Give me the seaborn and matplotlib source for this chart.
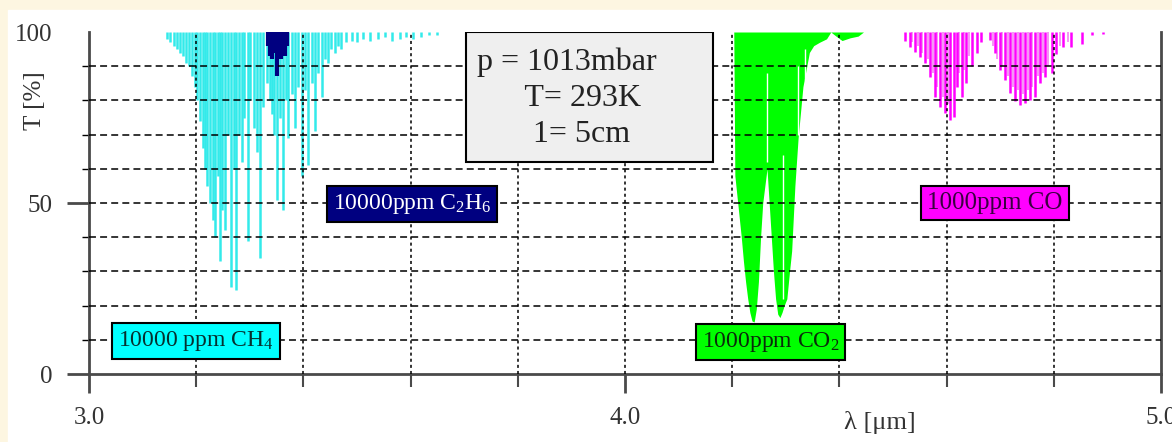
import matplotlib.pyplot as plt
import matplotlib.patches as patches
import seaborn as sns

# line positions (um) and transmission minima (%)
ch4_wl = [3.145, 3.152, 3.158, 3.164, 3.170, 3.176, 3.181, 3.187, 3.192, 3.197,
          3.202, 3.207, 3.212, 3.216, 3.221, 3.226, 3.231, 3.235, 3.240, 3.244,
          3.249, 3.254, 3.259, 3.265, 3.270, 3.274, 3.279, 3.285, 3.290, 3.296,
          3.301, 3.307, 3.313, 3.319, 3.325, 3.332, 3.337, 3.341, 3.346, 3.350,
          3.356, 3.362, 3.367, 3.372, 3.378, 3.384, 3.390, 3.397, 3.403, 3.409,
          3.416, 3.422, 3.428, 3.434, 3.440, 3.446, 3.452, 3.459, 3.465, 3.471,
          3.480, 3.490, 3.500, 3.512, 3.525, 3.540, 3.552, 3.565, 3.580, 3.592,
          3.605, 3.620, 3.635, 3.650]
ch4_T = [98, 97, 96, 95, 94, 93, 91, 90, 87, 84,
         80, 74, 66, 60, 55, 50, 45, 40, 58, 33,
         48, 42, 70, 25.5, 60, 24.5, 70, 62, 75, 39,
         80, 72, 65, 34, 78, 85, 80, 76, 70, 51,
         75, 48, 80, 69, 82, 72, 84, 58, 83, 61,
         85, 71, 88, 81, 92, 91, 95, 94, 96, 95,
         97, 97.5, 97, 98, 97.5, 98, 98.5, 97.5, 98, 98.5,
         98, 98.5, 99, 99]

c2h6_wl = [3.334, 3.338, 3.342, 3.346, 3.350, 3.354, 3.358, 3.362, 3.366, 3.370]
c2h6_T = [96, 93, 92, 94, 87, 93, 92, 94, 93, 96]

# CO2 band is saturated: envelope of the overlapping lines
co2_wl = [4.203, 4.205, 4.209, 4.213, 4.217, 4.221, 4.225, 4.229, 4.233, 4.237,
          4.241, 4.245, 4.249, 4.253, 4.257, 4.261, 4.265, 4.269, 4.273, 4.277,
          4.281, 4.285, 4.289, 4.293, 4.297, 4.302, 4.307, 4.311, 4.317, 4.323,
          4.332, 4.344, 4.352, 4.363, 4.376, 4.384, 4.392, 4.405, 4.420, 4.435,
          4.445]
co2_T = [100, 58, 52, 46, 40, 33, 27, 22, 18, 15.5,
         15.2, 19, 27, 40, 50, 55, 60, 50, 40, 30,
         22, 17.5, 16.5, 18, 20, 22, 30, 36, 55, 69,
         84, 94, 96, 97, 98, 100, 99, 97.5, 98.3, 98.8,
         100]
co2_gap_wl = [4.265, 4.295, 4.322, 4.336]
co2_gap_lo = [62, 22, 70, 86]
co2_gap_hi = [88, 64, 90, 95]

co_wl = [4.523, 4.532, 4.541, 4.550, 4.560, 4.569, 4.578, 4.588, 4.597, 4.606,
         4.613, 4.619, 4.628, 4.637, 4.647, 4.656, 4.665, 4.681, 4.690, 4.700,
         4.709, 4.718, 4.728, 4.737, 4.746, 4.756, 4.765, 4.774, 4.784, 4.796,
         4.805, 4.818, 4.833, 4.852, 4.871, 4.892]
co_T = [97.5, 95.7, 94.2, 92.8, 90.8, 86.9, 81.1, 78.2, 76.2, 74.3,
        75.2, 84.0, 81, 85.0, 90, 93.8, 97, 97.7, 93.8, 88.9,
        86.0, 82.1, 79.7, 78.7, 79.2, 80.1, 81.1, 85.0, 86.9, 88,
        93.5, 95.7, 95.7, 96.5, 99.0, 99.3]
# weaker (isotope / hot band) CO lines between the main ones
co_weak_wl = [4.536, 4.546, 4.555, 4.565, 4.574, 4.583, 4.593, 4.602, 4.624,
              4.633, 4.642, 4.686, 4.695, 4.704, 4.714, 4.723, 4.733, 4.742,
              4.751, 4.760, 4.770, 4.779, 4.790, 4.812, 4.826]
co_weak_T = [97, 96, 94, 92, 88, 84, 81, 79, 88, 89, 93, 96, 92, 90, 87,
             84, 83, 82, 83, 84, 87, 88, 90, 96, 97]

grid_x = [3.2, 3.4, 3.6, 3.8, 4.0, 4.2, 4.4, 4.6, 4.8]
grid_y = [10, 20, 30, 40, 50, 60, 70, 80, 90]

sns.set_style('ticks')
plt.rcParams['font.family'] = ['Liberation Serif', 'DejaVu Serif']
plt.rcParams['mathtext.fontset'] = 'custom'
plt.rcParams['mathtext.rm'] = 'Liberation Serif'
plt.rcParams['mathtext.it'] = 'Liberation Serif:italic'
plt.rcParams['lines.scale_dashes'] = False

fig = plt.figure(figsize=(11.72, 4.42), dpi=100, facecolor='#fdf6e1')
fig.patches.append(patches.Rectangle((0.007, 0), 0.993, 1 - 10 / 442,
                                     transform=fig.transFigure, color='white', zorder=-10))
ax = fig.add_axes([0.0759, 0.1538, 0.9147, 0.7738])
ax.set_facecolor('white')

# spectra
ax.vlines(ch4_wl, ch4_T, 100, color='#33eaea', lw=1.8, zorder=2)
ax.vlines(c2h6_wl, c2h6_T, 100, color='#000080', lw=3, zorder=2)
ax.fill_between(co2_wl, co2_T, 100, color='#00ff00', lw=0, zorder=2)
ax.vlines(co2_gap_wl, co2_gap_lo, co2_gap_hi, color='white', lw=1, zorder=2)
ax.vlines(co_weak_wl, co_weak_T, 100, color='#f58cf5', lw=1.3, zorder=2)
ax.vlines(co_wl, co_T, 100, color='#ff00ff', lw=1.8, zorder=2)

# dashed grid drawn over the spectra
for x in grid_x:
    ax.axvline(x, color='black', lw=1.3, ls=(0, (2.2, 2.2)), alpha=0.85, zorder=3)
for y in grid_y:
    ax.axhline(y, color='black', lw=1.3, ls=(0, (5, 3)), alpha=0.85, zorder=3)

ax.set_xlim(3.0, 5.0)
ax.set_ylim(0, 100)

ax.set_xticks([3.0, 4.0, 5.0], ['3.0', '4.0', '5.0'])
ax.set_xticks([3.2, 3.4, 3.6, 3.8, 4.2, 4.4, 4.6, 4.8], minor=True)
ax.set_yticks([0, 50, 100], ['0', '50', '100'])
ax.set_yticks([10, 20, 30, 40, 60, 70, 80, 90], minor=True)
ax.tick_params(axis='x', which='major', direction='out', length=14, width=2,
               color='#4a4a4a', pad=10, labelsize=18, labelcolor='#333333')
ax.tick_params(axis='x', which='minor', direction='out', length=9, width=1.5,
               color='#4a4a4a')
ax.tick_params(axis='y', which='major', direction='out', length=16, width=2,
               color='#4a4a4a', pad=10, labelsize=18, labelcolor='#333333')
ax.tick_params(axis='y', which='minor', direction='out', length=5, width=1,
               color='black')
ax.yaxis.get_major_ticks()[2].tick1line.set_visible(False)

sns.despine(ax=ax, top=True, right=False)
for side in ['left', 'bottom', 'right']:
    ax.spines[side].set_color('#4a4a4a')
    ax.spines[side].set_linewidth(2)

ax.set_ylabel('T [%]', fontsize=18, color='#333333')
ax.yaxis.set_label_coords(-0.040, 0.80)
ax.set_xlabel('λ [μm]', fontsize=19, color='#333333')
ax.xaxis.set_label_coords(0.738, -0.108)

# conditions box
ax.add_patch(patches.Rectangle((3.703, 62.1), 4.165 - 3.703, 100 - 62.1,
                               facecolor='#efefef', edgecolor='black', lw=1.5, zorder=5))
ax.text(3.724, 80.6, 'p = 1013mbar\n      T= 293K\n       1= 5cm', ha='left', va='center',
        multialignment='left', fontsize=23, linespacing=1.33, color='#222222', zorder=6)

# gas labels
box = dict(boxstyle='square,pad=0.25', edgecolor='black', lw=1.5)
ax.text(3.20, 9.6, '10000 ppm CH$_4$', ha='center', va='center', fontsize=17,
        color='#06302f', bbox={**box, 'facecolor': '#00ffff'}, zorder=6)
ax.text(3.603, 49.7, '10000ppm C$_2$H$_6$', ha='center', va='center', fontsize=17,
        color='white', bbox={**box, 'facecolor': '#000080'}, zorder=6)
ax.text(4.272, 9.4, '1000ppm CO$_2$', ha='center', va='center', fontsize=17,
        color='#0a2a0a', bbox={**box, 'facecolor': '#00ff00'}, zorder=6)
ax.text(4.690, 50, '1000ppm CO', ha='center', va='center', fontsize=18,
        color='#3a0040', bbox={**box, 'facecolor': '#ff00ff'}, zorder=6)

fig.savefig('out.png', dpi=100, facecolor=fig.get_facecolor())
